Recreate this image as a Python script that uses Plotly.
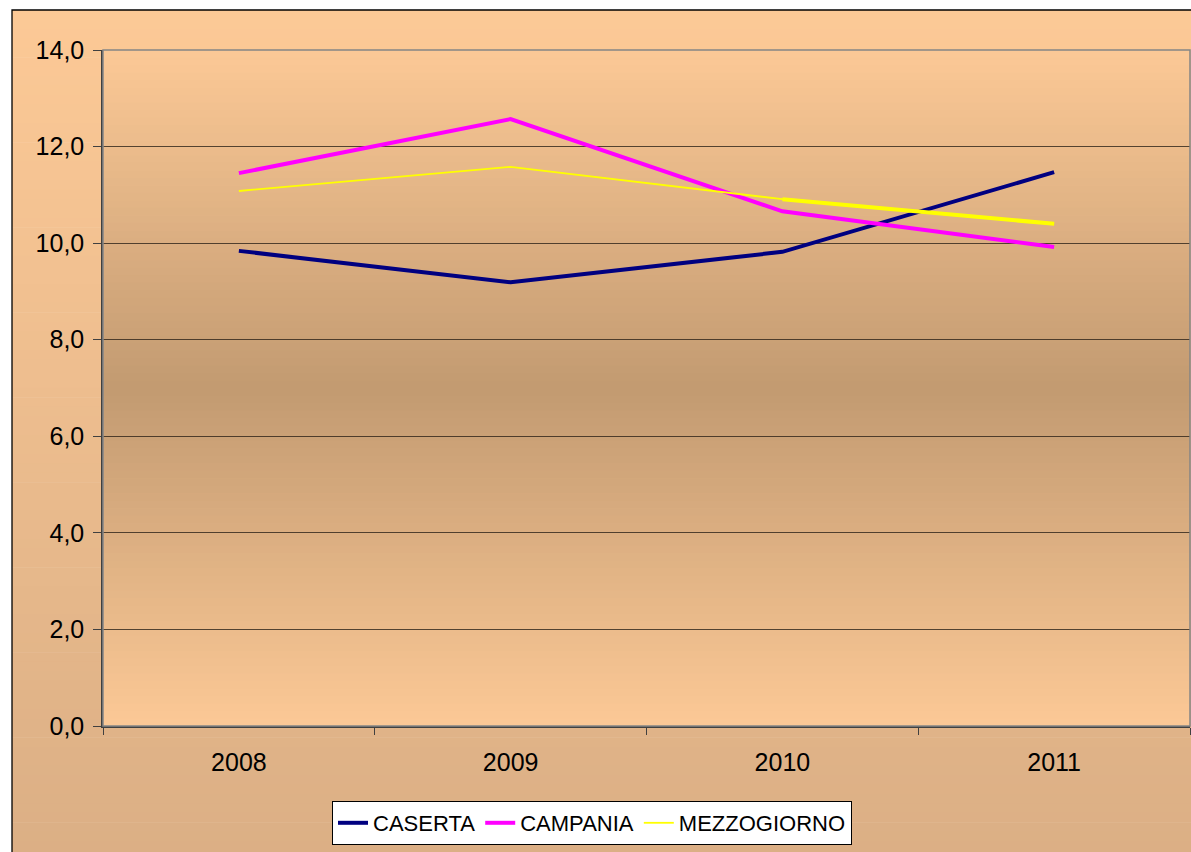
import plotly.graph_objects as go

# Data
YEARS = ["2008", "2009", "2010", "2011"]
CASERTA = [9.84, 9.19, 9.82, 11.47]
CAMPANIA = [11.45, 12.57, 10.66, 9.92]
MEZZOGIORNO = [11.08, 11.58, 10.91, 10.40]

# Layout constants (pixels)
WIDTH, HEIGHT = 1191, 852
LEFT, RIGHT, TOP, BOTTOM = 103, 1190, 50, 726
FONT_FAMILY = "Liberation Sans, Arial, sans-serif"
NARROW_FONT = "Liberation Sans Narrow, Arial Narrow, Liberation Sans, Arial, sans-serif"

PEACH = (252, 201, 150)
DARK = (194, 154, 113)
TAN = (219, 175, 133)


def px_x(x):
    return (x - LEFT) / (RIGHT - LEFT)


def px_y(y):
    return (BOTTOM - y) / (BOTTOM - TOP)


def mix(c1, c2, t):
    return "rgb({},{},{})".format(*[round(a + (b - a) * t) for a, b in zip(c1, c2)])


def gradient_bands(x0, x1, y0, y1, color_at, n=90):
    """Horizontal bands faking a vertical gradient, coordinates in pixels."""
    shapes = []
    step = (y1 - y0) / n
    for i in range(n):
        t = (i + 0.5) / n
        shapes.append(dict(
            type="rect", xref="paper", yref="paper", layer="below",
            x0=px_x(x0), x1=px_x(x1),
            y0=px_y(y0 + i * step), y1=px_y(y0 + (i + 1) * step + 0.6),
            fillcolor=color_at(t), line=dict(width=0),
        ))
    return shapes


shapes = []
# chart area: peach at top fading to tan at bottom
shapes += gradient_bands(12, 1200, 10, 860, lambda t: mix(PEACH, TAN, t))
# plot area: peach at edges, darker in the middle
shapes += gradient_bands(LEFT, RIGHT, TOP, BOTTOM, lambda t: mix(PEACH, DARK, 1 - abs(2 * t - 1)))
# chart area border
shapes.append(dict(
    type="rect", xref="paper", yref="paper", layer="above",
    x0=px_x(12), x1=px_x(1210), y0=px_y(10), y1=px_y(870),
    line=dict(color="black", width=1.3), fillcolor="rgba(0,0,0,0)",
))
# plot area border (gray)
shapes.append(dict(
    type="rect", xref="paper", yref="paper", layer="above",
    x0=0, x1=1, y0=0, y1=1,
    line=dict(color="#858585", width=1.5), fillcolor="rgba(0,0,0,0)",
))

fig = go.Figure()
fig.add_trace(go.Scatter(x=YEARS, y=CASERTA, name="CASERTA", mode="lines",
                         line=dict(color="#000080", width=4)))
fig.add_trace(go.Scatter(x=YEARS, y=CAMPANIA, name="CAMPANIA", mode="lines",
                         line=dict(color="#FF00FF", width=4)))
fig.add_trace(go.Scatter(x=YEARS, y=MEZZOGIORNO, name="MEZZOGIORNO", mode="lines",
                         line=dict(color="#FFFF00", width=1.8)))
# last segment of the yellow line is drawn thicker in the original
fig.add_trace(go.Scatter(x=YEARS[2:], y=MEZZOGIORNO[2:], mode="lines", showlegend=False,
                         line=dict(color="#FFFF00", width=4)))

fig.update_layout(
    width=WIDTH, height=HEIGHT,
    margin=dict(l=LEFT, r=WIDTH - RIGHT, t=TOP, b=HEIGHT - BOTTOM, pad=0),
    paper_bgcolor="white",
    plot_bgcolor="rgba(0,0,0,0)",
    separators=",.",
    font=dict(family=FONT_FAMILY, size=25, color="black"),
    shapes=shapes,
    showlegend=True,
    legend=dict(
        orientation="h",
        x=px_x(332), xanchor="left",
        y=px_y(801), yanchor="top",
        bgcolor="white", bordercolor="black", borderwidth=1,
        font=dict(family=NARROW_FONT, size=22),
        itemwidth=30, tracegroupgap=0,
    ),
)

fig.update_xaxes(
    type="category",
    range=[-0.5, 3.5],
    tickson="boundaries",
    ticks="outside", ticklen=7, tickwidth=1.3, tickcolor="#404040",
    showline=True, linecolor="#404040", linewidth=2,
    showgrid=False,
    ticklabelstandoff=13,
)
fig.update_yaxes(
    range=[0, 14], dtick=2, tickformat=".1f",
    ticks="outside", ticklen=8, tickwidth=1.3, tickcolor="#404040",
    showline=True, linecolor="#404040", linewidth=1.5,
    showgrid=True, gridcolor="rgba(45,35,25,0.8)", gridwidth=1.2,
    zeroline=False,
    ticklabelstandoff=4,
)

fig.write_html(
    "out.html",
    config={"displayModeBar": False},
    post_script="document.body.style.margin='0';document.body.style.overflow='hidden';",
)
